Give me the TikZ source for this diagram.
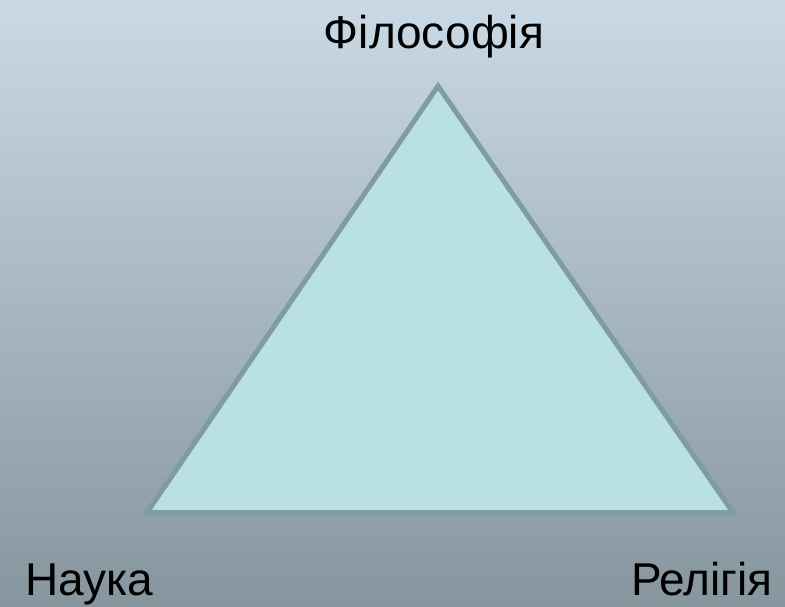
\documentclass[tikz,border=0pt]{standalone}
\usepackage{fontspec}
\setmainfont{Liberation Sans}
\definecolor{bgtop}{HTML}{C9DAE6}
\definecolor{bgbot}{HTML}{86959E}
\definecolor{trifill}{HTML}{B9E0E2}
\definecolor{tristroke}{HTML}{7F9D9E}
\tikzset{lbl/.style={inner sep=0pt, font=\fontsize{46}{50}\selectfont, text=black}}
\begin{document}
\begin{tikzpicture}[x=1pt,y=-1pt]
\useasboundingbox (0,0) rectangle (785,606);
\shade[top color=bgtop, bottom color=bgbot] (0,0) rectangle (785,606);
\coordinate (top) at (438,86);
\coordinate (bl) at (147,512.5);
\coordinate (br) at (733,512.5);
\draw[fill=trifill, draw=tristroke, line width=5pt, line join=miter] (top) -- (br) -- (bl) -- cycle;
\node[lbl, anchor=base] (phil) at (434,48) {Філософія};
\node[lbl, anchor=base west] (sci) at (25,595) {Наука};
\node[lbl, anchor=base east] (rel) at (773,595) {Релігія};
\end{tikzpicture}
\end{document}
